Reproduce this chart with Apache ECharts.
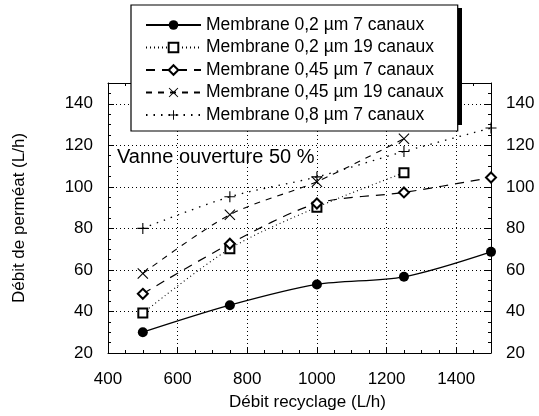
<!DOCTYPE html>
<html><head><meta charset="utf-8">
<script src="https://cdn.jsdelivr.net/npm/echarts@6/dist/echarts.min.js"></script>
<style>html,body{margin:0;padding:0;background:#fff}#c{width:539px;height:416px}</style>
</head><body><div id="c"></div>
<script>
const debitRecyclage = [500, 750, 1000, 1250, 1500];
const seriesNames = [
  'Membrane 0,2 µm 7 canaux',
  'Membrane 0,2 µm 19 canaux',
  'Membrane 0,45 µm 7 canaux',
  'Membrane 0,45 µm 19 canaux',
  'Membrane 0,8 µm 7 canaux'
];
const m02_7  = [30, 43, 53, 56.7, 68.7];
const m02_19 = [39.2, 70.2, 90.2, 106.8, null];
const m045_7 = [48.5, 72.6, 92, 97.3, 104.5];
const m045_19 = [58.3, 86.6, 102.5, 123.2, null];
const m08_7  = [80, 95.2, 104.8, 117, 128.3];
const xTicks = [400, 600, 800, 1000, 1200, 1400];
const yTicks = [20, 40, 60, 80, 100, 120, 140];
const annotation = 'Vanne ouverture 50 %';

const FONT = 'Liberation Sans, Arial, Helvetica, sans-serif';
const plus = 'path://M4.5,0H5.5V4.5H10V5.5H5.5V10H4.5V5.5H0V4.5H4.5Z';
const cross = 'path://M0,0.7L0.7,0L5,4.3L9.3,0L10,0.7L5.7,5L10,9.3L9.3,10L5,5.7L0.7,10L0,9.3L4.3,5Z';

function pairs(ys){ return debitRecyclage.map((x,i)=> ys[i]==null ? null : [x, ys[i]]).filter(p=>p); }

const styles = [
  {data:m02_7, symbol:'circle', size:10, dash:'solid', width:1.3, bw:0},
  {data:m02_19, symbol:'emptyRect', size:9, dash:[1,3], width:1.1, bw:1},
  {data:m045_7, symbol:'emptyDiamond', size:10, dash:[9,7], width:1.2, bw:1},
  {data:m045_19, symbol:cross, size:11, dash:[6,6], width:1.1, bw:0},
  {data:m08_7, symbol:plus, size:11, dash:[1.5,6], width:1.3, bw:0}
];

const series = styles.map((s,i)=>({
  name: seriesNames[i], type:'line', data: pairs(s.data),
  smooth: 0.3, symbol: s.symbol, symbolSize: s.size, showAllSymbol:true,
  lineStyle:{color:'#000', width:s.width, type:s.dash},
  itemStyle:{color:'#000', borderColor:'#000', borderWidth:s.bw},
  clip:false, z:3
}));

const chart = echarts.init(document.getElementById('c'));
const axisTxt = {color:'#000', fontSize:17, fontFamily:FONT};
chart.setOption({
  animation:false,
  backgroundColor:'#fff',
  grid:{left:108, right:48, top:83, bottom:55},
  xAxis:[{
    type:'value', min:400, max:1500, interval:200,
    name:'Débit recyclage (L/h)', nameLocation:'middle', nameGap:41,
    nameTextStyle:{color:'#000', fontSize:17, fontFamily:FONT, padding:[0,0,0,16]},
    axisLine:{lineStyle:{color:'#000', width:1}},
    axisTick:{inside:true, length:6, lineStyle:{color:'#000'}},
    minorTick:{show:true, splitNumber:4, length:3, lineStyle:{color:'#000'}},
    axisLabel:{...axisTxt, margin:18, showMaxLabel:false, formatter:v=> xTicks.includes(v)? String(v):''},
    splitLine:{show:true, lineStyle:{color:'#000', width:1, type:[1,3]}}
  },{
    type:'value', min:400, max:1500, interval:200, position:'top',
    axisLine:{show:true, lineStyle:{color:'#000'}},
    axisTick:{show:true, inside:true, length:6, lineStyle:{color:'#000'}},
    minorTick:{show:true, splitNumber:4, length:3, lineStyle:{color:'#000'}},
    axisLabel:{show:false}, splitLine:{show:false}
  }],
  yAxis:[{
    type:'value', min:20, max:150, interval:20,
    name:'Débit de perméat (L/h)', nameLocation:'middle', nameGap:80, nameRotate:90,
    nameTextStyle:{color:'#000', fontSize:17, fontFamily:FONT},
    axisLine:{show:true, lineStyle:{color:'#000'}},
    axisTick:{show:true, inside:true, length:6, lineStyle:{color:'#000'}},
    minorTick:{show:true, splitNumber:4, length:3, lineStyle:{color:'#000'}},
    axisLabel:{...axisTxt, margin:15, formatter:v=> yTicks.includes(v)? String(v):''},
    splitLine:{show:true, lineStyle:{color:'#000', width:1, type:[1,3]}}
  },{
    type:'value', min:20, max:150, interval:20, position:'right',
    axisLine:{show:true, lineStyle:{color:'#000'}},
    axisTick:{show:true, inside:true, length:6, lineStyle:{color:'#000'}},
    minorTick:{show:true, splitNumber:4, length:3, lineStyle:{color:'#000'}},
    axisLabel:{...axisTxt, margin:15, formatter:v=> yTicks.includes(v)? String(v):''},
    splitLine:{show:false}
  }],
  legend:{
    orient:'vertical', left:131, top:5,
    padding:[11, 14, 7, 14],
    itemWidth:55, itemHeight:12, itemGap:4.5,
    backgroundColor:'#fff', borderColor:'#000', borderWidth:1.2,
    textStyle:{color:'#000', fontSize:17.5, fontFamily:FONT, lineHeight:16},
    data: seriesNames.map((n,i)=>({name:n, itemStyle:{borderWidth:styles[i].bw}})), z:10
  },
  graphic:[{
    type:'rect', left:134, top:8, z:8,
    shape:{width:328, height:117},
    style:{fill:'#000'}
  },{
    type:'text', left:117, top:147, z:5,
    style:{text:annotation, fill:'#000', font:'20px '+FONT}
  }],
  series: series
});
</script></body></html>
